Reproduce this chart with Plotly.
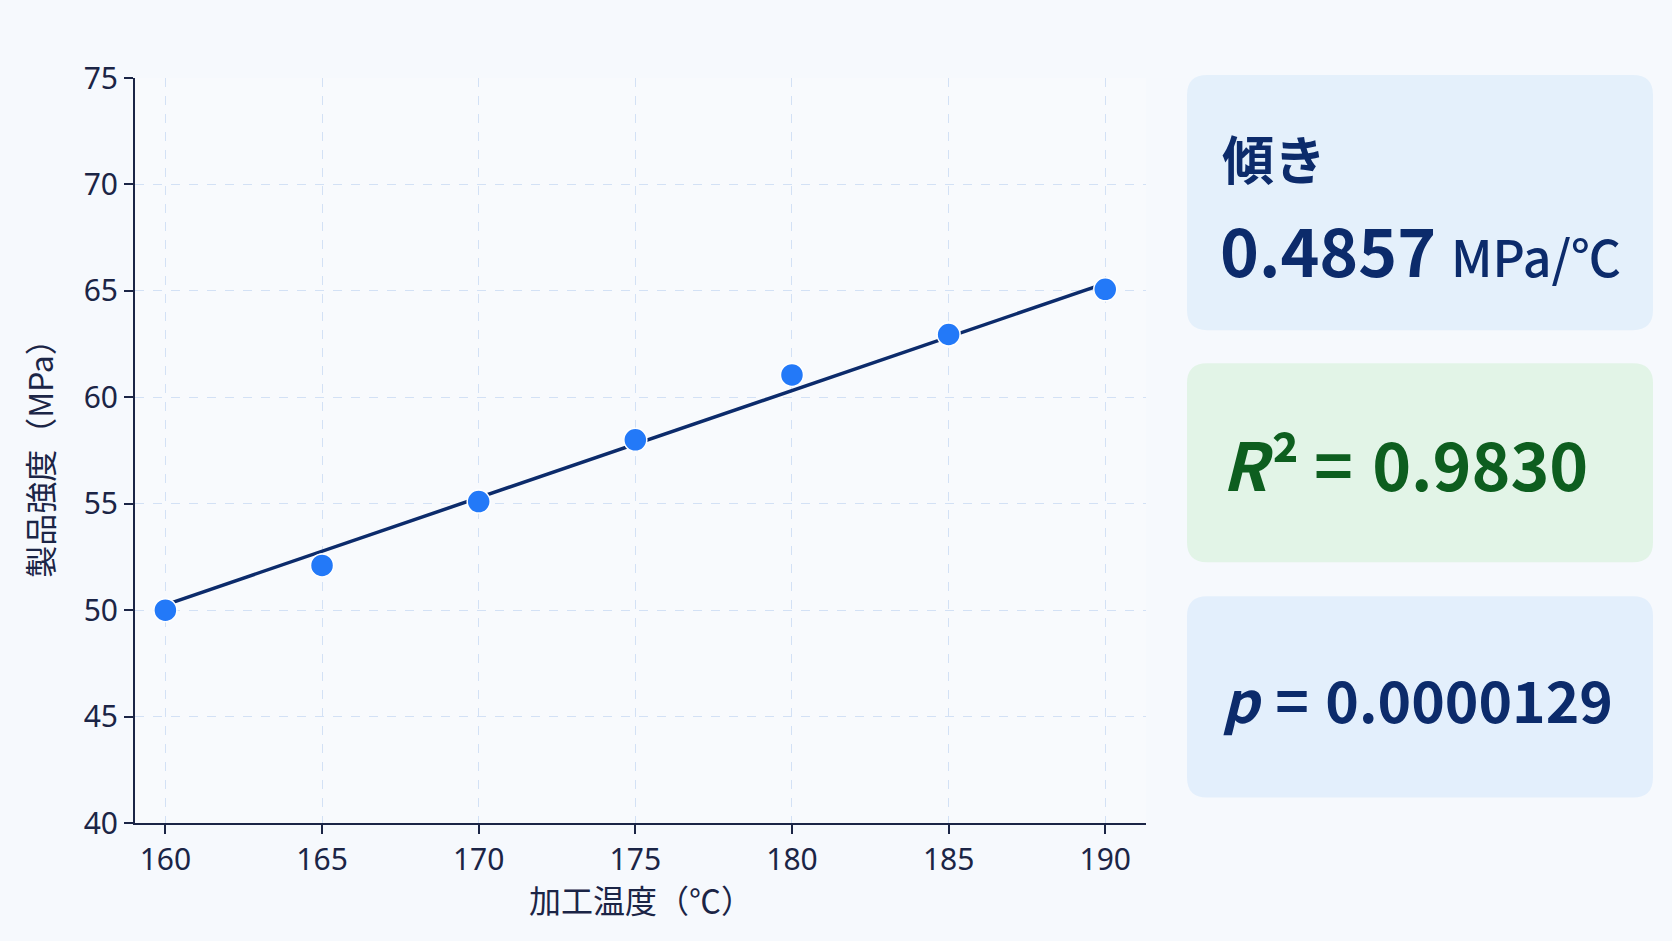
import plotly.graph_objects as go

# data
temp_c = [160, 165, 170, 175, 180, 185, 190]
strength_mpa = [50.0, 52.1, 55.1, 58.0, 61.05, 62.95, 65.07]
fit_x = [160, 190]
fit_y = [50.25, 65.35]

slope_text = "0.4857"
slope_unit = "MPa/℃"
r2_text = "0.9830"
p_text = "0.0000129"

x_ticks = [160, 165, 170, 175, 180, 185, 190]
y_ticks = [40, 45, 50, 55, 60, 65, 70, 75]

NAVY = "#0c2b6b"
GREEN = "#0d5e1f"
INK = "#1b2546"
FONT = "Noto Sans CJK JP"

# plot area in pixels (1672x941 page)
PL, PR, PT, PB = 135, 1146, 78, 822.6


def px(x):
    return (x - PL) / (PR - PL)


def py(y):
    return (PB - y) / (PB - PT)


def rounded_rect(x0, y0, x1, y1, r):
    return (f"M {px(x0 + r)},{py(y0)} L {px(x1 - r)},{py(y0)} "
            f"Q {px(x1)},{py(y0)} {px(x1)},{py(y0 + r)} L {px(x1)},{py(y1 - r)} "
            f"Q {px(x1)},{py(y1)} {px(x1 - r)},{py(y1)} L {px(x0 + r)},{py(y1)} "
            f"Q {px(x0)},{py(y1)} {px(x0)},{py(y1 - r)} L {px(x0)},{py(y0 + r)} "
            f"Q {px(x0)},{py(y0)} {px(x0 + r)},{py(y0)} Z")


fig = go.Figure()
fig.add_trace(go.Scatter(x=fit_x, y=fit_y, mode="lines",
                         line=dict(color=NAVY, width=3.5), hoverinfo="skip"))
fig.add_trace(go.Scatter(x=temp_c, y=strength_mpa, mode="markers",
                         marker=dict(size=23, color="#2379f8",
                                     line=dict(color="white", width=1.5))))

panels = [
    (1187, 75, 1653, 330, "#e4f0fb"),
    (1187, 363, 1653, 562, "#e2f4e7"),
    (1187, 596, 1653, 797, "#e3effc"),
]
for x0, y0, x1, y1, col in panels:
    fig.add_shape(type="path", xref="paper", yref="paper", layer="below",
                  path=rounded_rect(x0, y0, x1, y1, 20),
                  fillcolor=col, line=dict(width=0))


def label(text, x, y, size, color, weight=700, anchor="left"):
    fig.add_annotation(text=text, xref="paper", yref="paper", x=px(x), y=py(y),
                       xanchor=anchor, yanchor="middle", showarrow=False,
                       font=dict(family=FONT, size=size, color=color, weight=weight))


label("傾き", 1220, 157, 52, NAVY)
label(slope_text, 1218, 248, 66, NAVY)
label(slope_unit, 1449, 255, 50, NAVY, weight=500)
label(f"<i>R</i>\u200a² = \u200a{r2_text}", 1220, 462, 66, GREEN)
label(f"<i>p</i> \u200a= \u200a{p_text}", 1220, 698, 57, NAVY)

# x axis title as a free label so it sits where the reference has it
label("加工温度（℃）", (PL + PR) / 2, 899, 32, INK, weight=400, anchor="center")

axis_common = dict(showline=True, linecolor=INK, linewidth=2,
                   ticks="outside", ticklen=9, tickwidth=2, tickcolor=INK,
                   showgrid=True, gridcolor="#d3e1f5", gridwidth=1, griddash="dash",
                   zeroline=False, tickfont=dict(family="Noto Sans", size=30, color=INK),
                   mirror=False)

fig.update_xaxes(range=[159.03, 191.3], tickvals=x_ticks, **axis_common)
fig.update_yaxes(range=[40, 75], tickvals=y_ticks, **axis_common,
                 title=dict(text="製品強度（MPa）", standoff=20,
                            font=dict(family=FONT, size=32, color=INK)))

fig.update_layout(width=1672, height=941, showlegend=False,
                  margin=dict(l=PL, r=1672 - PR, t=PT, b=941 - PB, autoexpand=False),
                  paper_bgcolor="#f6f9fd", plot_bgcolor="#f8fafd")

fig.write_html("out.html", config={"displayModeBar": False},
               post_script="document.body.style.margin='0';")
